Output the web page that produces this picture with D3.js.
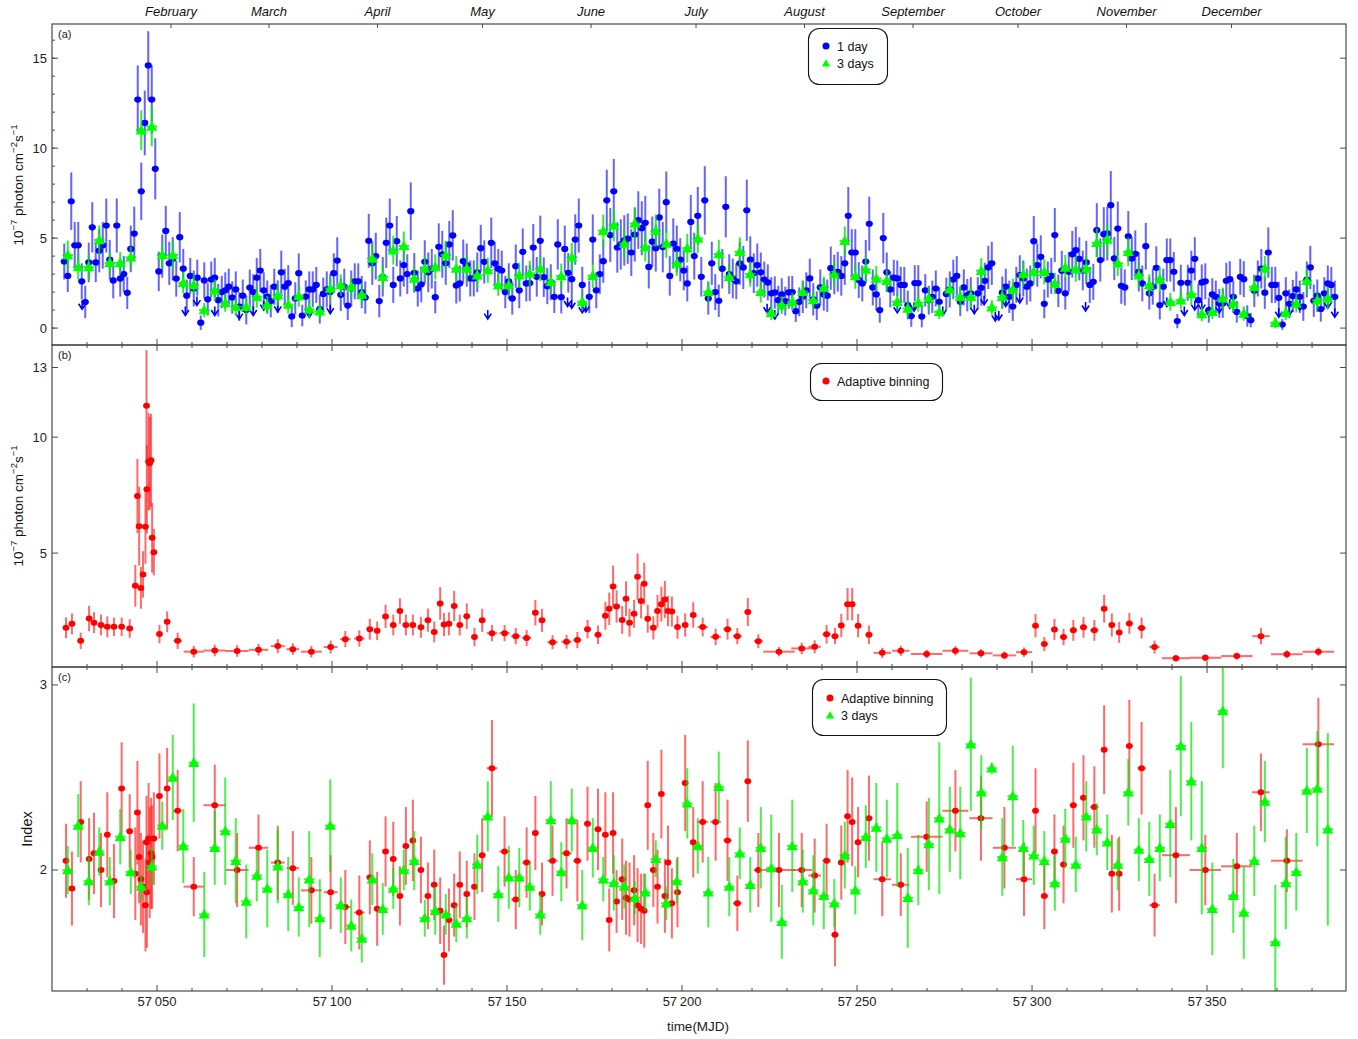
<!DOCTYPE html>
<html>
<head>
<meta charset="utf-8">
<script src="https://cdn.jsdelivr.net/npm/d3@7"></script>
<style>
  body { margin: 0; background: #fff; }
  svg { font-family: "Liberation Sans", Arial, sans-serif; }
</style>
</head>
<body>
<svg id="chart" width="1358" height="1039"></svg>
<script>
// ---- panel (a): 1-day fluxes, one per day from MJD 57023.5 ----
const dayStart = 57023.5;
const dayFlux = [
  3.7, 2.9, 7.05, 4.6, 4.6, 2.6, 1.45, 3.65, 5.6, 3.65,
  4.3, 4.6, 5.7, 3.8, 2.65, 5.7, 2.75, 3.0, 1.96, 4.4,
  5.25, 12.7, 7.6, 11.4, 14.6, 12.7, 8.85, 3.15, 4.0, 5.4,
  3.6, 3.85, 2.75, 5.05, 3.3, 1.8, 2.9, 2.2, 2.8, 0.3,
  2.65, 1.6, 2.7, 2.8, 1.55, 2.0, 2.1, 2.3, 1.7, 2.15,
  1.2, 1.8, 1.0, 2.25, 2.0, 2.8, 3.2, 2.1, 1.75, 1.5,
  2.3, 1.75, 3.1, 2.3, 2.5, 0.65, 1.65, 3.05, 0.7, 1.75,
  2.15, 2.15, 2.4, 1.05, 1.9, 2.15, 2.0, 3.05, 3.75, 1.85,
  2.3, 1.25, 2.2, 2.6, 2.6, 2.0, 1.7, 4.85, 3.6, 4.0,
  1.5, 2.85, 4.74, 5.7, 2.4, 4.83, 2.76, 3.5, 3.0, 6.5,
  3.07, 2.2, 2.43, 3.68, 3.1, 3.3, 1.72, 4.52, 4.1, 3.6,
  4.65, 5.15, 2.37, 2.48, 3.72, 3.5, 2.76, 2.76, 3.1, 4.44,
  3.68, null, 4.74, 3.6, 3.3, 3.2, 2.0, 2.6, 1.65, 3.44,
  2.1, 4.24, 2.48, 2.5, 4.48, 2.85, 4.85, 2.83, 2.33, 2.55,
  1.74, 4.65, 1.72, 4.4, 3.07, 2.72, 4.92, 5.7, 2.4, null,
  1.74, 4.92, 2.1, 3.0, 3.72, 7.1, 5.17, 7.6, 4.48, 4.65,
  4.87, 4.97, 4.2, 5.2, 6.0, 5.55, 5.85, 3.4, 4.8, 4.44,
  6.15, 4.5, 7.0, 2.9, 4.7, 4.4, 3.8, 3.2, 2.48, 5.9,
  4.0, 6.24, 2.85, 7.1, 1.65, 3.6, 2.0, 1.52, 3.3, 6.74,
  3.0, 2.76, 2.6, 3.6, 3.37, 6.55, 3.8, 3.05, 3.5, 3.1,
  2.7, 2.54, 1.93, 1.98, 1.55, 1.87, 1.5, 1.98, 2.0, 0.94,
  1.46, 1.74, 2.1, 2.76, 1.6, 1.24, 2.26, 1.87, 1.8, 3.33,
  2.98, 3.13, 2.9, 3.6, 6.24, 4.2, 4.2, 2.67, 2.48, 3.7,
  5.8, 2.26, 1.87, 1.0, 5.0, 3.1, 2.15, 2.8, 2.76, 2.4,
  2.4, 1.28, 0.67, 2.5, 2.5, 0.64, 2.1, 1.55, 1.74, 2.2,
  1.46, null, 1.9, 2.15, 2.7, 2.9, 1.46, 2.26, 1.83, 1.93,
  null, 1.93, 2.24, 2.63, 3.37, 3.6, null, null, 1.97, 2.3,
  1.74, 1.2, 2.4, 2.95, 2.76, 2.3, 2.48, 4.83, 3.5, 3.96,
  1.35, 2.7, 2.9, 5.17, 2.07, 3.19, 1.93, 3.13, 4.1, 4.33,
  3.85, 3.2, 3.65, 2.4, 2.57, 5.44, 3.78, 5.22, 5.26, 6.83,
  3.87, 5.53, 2.35, 2.26, 5.1, 3.87, 4.13, 3.13, 2.48, 4.55,
  1.93, 2.3, 3.35, 1.28, 2.3, 3.78, 3.78, 3.13, 0.39, 2.52,
  null, 2.52, 3.2, 3.85, 1.55, 2.54, 2.6, 1.0, 1.87, 1.74,
  1.37, 1.37, 2.63, 2.72, 1.74, 0.9, 2.85, 2.72, 0.67, 0.44,
  2.07, 2.76, 3.3, 1.97, 4.2, 2.4, 2.4, 1.68, 0.2, 1.93,
  1.35, 1.78, 2.15, 1.74, 1.2, 2.7, 3.37, 1.52, 1.8, 1.06,
  1.93, 2.48, 2.4, 1.74
];
const dayErr = [
  1.0, 0.9, 1.6, 1.3, 1.3, 1.0, 0.9, 1.1, 1.4, 1.1,
  1.2, 1.3, 1.5, 1.1, 1.0, 1.5, 1.0, 1.0, 0.9, 1.3,
  1.5, 1.9, 1.6, 1.8, 1.9, 1.9, 1.7, 1.1, 1.2, 1.4,
  1.2, 1.2, 1.0, 1.4, 1.1, 0.9, 1.0, 1.0, 1.0, 0.4,
  1.0, 0.9, 1.0, 1.1, 0.9, 0.9, 1.0, 1.0, 0.9, 1.0,
  0.8, 0.9, 0.8, 1.0, 1.0, 1.1, 1.2, 1.0, 0.9, 0.9,
  1.0, 0.9, 1.2, 1.0, 1.0, 0.6, 0.9, 1.1, 0.6, 0.9,
  1.0, 1.0, 1.0, 0.8, 0.9, 1.0, 1.0, 1.1, 1.3, 0.9,
  1.0, 0.8, 1.0, 1.0, 1.0, 0.9, 0.9, 1.5, 1.2, 1.3,
  0.9, 1.1, 1.4, 1.5, 1.0, 1.4, 1.0, 1.2, 1.1, 1.6,
  1.1, 1.0, 1.0, 1.2, 1.1, 1.1, 0.9, 1.3, 1.3, 1.2,
  1.3, 1.4, 1.0, 1.0, 1.2, 1.2, 1.0, 1.0, 1.1, 1.3,
  1.2, 0, 1.4, 1.2, 1.1, 1.1, 0.9, 1.0, 0.9, 1.2,
  1.0, 1.3, 1.0, 1.0, 1.3, 1.1, 1.4, 1.1, 1.0, 1.0,
  0.9, 1.4, 0.9, 1.3, 1.1, 1.1, 1.4, 1.5, 1.0, 0,
  0.9, 1.4, 1.0, 1.1, 1.2, 1.7, 1.5, 1.8, 1.4, 1.4,
  1.4, 1.4, 1.3, 1.5, 1.6, 1.5, 1.5, 1.2, 1.4, 1.3,
  1.6, 1.4, 1.7, 1.1, 1.4, 1.3, 1.2, 1.1, 1.0, 1.5,
  1.3, 1.6, 1.1, 1.9, 0.9, 1.2, 1.0, 0.9, 1.1, 1.7,
  1.1, 1.1, 1.0, 1.2, 1.2, 1.7, 1.3, 1.1, 1.2, 1.1,
  1.0, 1.0, 0.9, 0.9, 0.8, 0.9, 0.8, 0.9, 0.9, 0.6,
  0.8, 0.9, 1.0, 1.1, 0.9, 0.8, 1.0, 0.9, 0.9, 1.2,
  1.1, 1.1, 1.1, 1.2, 1.6, 1.3, 1.3, 1.0, 1.0, 1.2,
  1.5, 1.0, 0.9, 0.7, 1.4, 1.1, 1.0, 1.0, 1.0, 1.0,
  1.0, 0.8, 0.6, 1.0, 1.0, 0.6, 0.9, 0.8, 0.9, 1.0,
  0.8, 0, 0.9, 1.0, 1.1, 1.1, 0.8, 1.0, 0.9, 0.9,
  0, 0.9, 1.0, 1.0, 1.2, 1.2, 0, 0, 0.9, 1.0,
  0.9, 0.8, 1.0, 1.1, 1.0, 1.0, 1.0, 1.4, 1.2, 1.2,
  0.8, 1.0, 1.0, 1.5, 0.9, 1.1, 0.9, 1.1, 1.3, 1.3,
  1.2, 1.1, 1.2, 1.0, 1.0, 1.5, 1.2, 1.5, 1.5, 1.9,
  1.2, 1.5, 1.0, 1.0, 1.4, 1.2, 1.3, 1.1, 1.0, 1.3,
  0.9, 1.0, 1.2, 0.8, 1.0, 1.2, 1.2, 1.1, 0.4, 1.0,
  0, 1.0, 1.1, 1.2, 0.9, 1.0, 1.0, 0.7, 0.9, 0.9,
  0.8, 0.8, 1.0, 1.0, 0.9, 0.6, 1.0, 1.0, 0.6, 0.4,
  0.9, 1.0, 1.1, 0.9, 1.4, 1.0, 1.0, 0.9, 0.3, 0.9,
  0.8, 0.9, 1.0, 0.9, 0.8, 1.0, 1.2, 0.9, 0.9, 0.7,
  0.9, 1.0, 1.0, 0.9
];
// 1-day upper limits
const ulMjd = [57028.6, 57058.1, 57061.4, 57066.5, 57073.5, 57077.5, 57080.5, 57084.5, 57093.5, 57099.5,
  57144.5, 57167.3, 57168.5, 57171.5, 57172.5, 57224.3, 57226.5, 57261.5, 57266.3, 57274.5,
  57283.5, 57286.3, 57289.5, 57290.5, 57292.5, 57296.5, 57315.3, 57338.5, 57343.5, 57346.5,
  57348.5, 57350.5, 57353.5, 57356.5, 57370.5, 57373.5, 57376.5, 57384.5, 57386.5];
const ulFlux = [1.55, 1.2, 1.75, 1.2, 1.0, 1.2, 1.5, 1.4, 1.1, 1.3,
  1.0, 1.7, 1.6, 1.35, 1.4, 1.35, 1.0, 1.35, 1.45, 1.2,
  1.3, 1.8, 0.9, 0.95, 1.7, 1.9, 1.45, 1.7, 1.2, 1.5,
  1.5, 1.2, 1.35, 1.6, 1.1, 1.2, 1.5, 1.6, 1.1];

// ---- 3-day bins, centres from MJD 57024.5 ----
const triStart = 57024.5;
const triFlux = [
  4.06, 3.4, 3.4, 4.9, 3.63, 3.63, 3.93, 11.0, 11.2, 4.06,
  4.06, 2.52, 2.39, 1.0, 2.1, 1.41, 1.19, 1.19, 1.74, 1.28,
  1.83, 1.31, 1.78, 1.04, 0.94, 2.2, 2.39, 2.3, 1.87, 3.87,
  2.85, 4.33, 4.57, 2.76, 3.31, 3.4, 4.06, 3.31, 3.31, 2.94,
  3.22, 2.39, 2.39, 2.94, 3.04, 3.31, 2.57, 2.89, 3.93, 1.46,
  2.91, 5.41, 5.72, 4.7, 5.81, 4.5, 5.41, 4.7, 3.6, 4.44,
  4.98, 2.02, 4.11, 2.85, 4.24, 3.0, 2.02, 0.85, 1.28, 1.46,
  2.02, 1.56, 2.26, 3.0, 4.85, 2.89, 3.26, 2.76, 2.63, 1.46,
  1.09, 1.41, 1.65, 0.91, 2.15, 1.74, 1.74, 3.19, 1.15, 1.74,
  2.15, 3.0, 3.13, 3.13, 2.48, 3.37, 3.28, 3.31, 4.74, 4.92,
  3.6, 4.24, 2.94, 2.39, 2.7, 1.46, 1.55, 1.89, 0.78, 0.9,
  1.65, 1.37, 0.81, 2.3, 3.31, 0.3, 0.85, 1.37, 2.63, 1.55,
  1.65
];
const triFluxErr = [
  0.8, 0.7, 0.7, 0.8, 0.6, 0.6, 0.6, 1.1, 1.1, 0.7,
  0.8, 0.6, 0.6, 0.4, 0.6, 0.5, 0.5, 0.5, 0.6, 0.5,
  0.6, 0.5, 0.6, 0.5, 0.4, 0.6, 0.6, 0.6, 0.6, 0.8,
  0.7, 0.8, 0.8, 0.7, 0.7, 0.7, 0.8, 0.7, 0.7, 0.7,
  0.7, 0.6, 0.6, 0.7, 0.7, 0.7, 0.6, 0.7, 0.8, 0.5,
  0.7, 0.9, 0.9, 0.8, 0.9, 0.8, 0.9, 0.8, 0.7, 0.8,
  0.8, 0.6, 0.8, 0.7, 0.8, 0.7, 0.6, 0.4, 0.5, 0.5,
  0.6, 0.5, 0.6, 0.7, 0.8, 0.7, 0.7, 0.7, 0.6, 0.5,
  0.5, 0.5, 0.6, 0.4, 0.6, 0.6, 0.6, 0.7, 0.4, 0.6,
  0.6, 0.7, 0.7, 0.7, 0.6, 0.7, 0.7, 0.7, 0.8, 0.9,
  0.7, 0.8, 0.7, 0.6, 0.7, 0.5, 0.5, 0.6, 0.4, 0.4,
  0.6, 0.5, 0.4, 0.6, 0.7, 0.3, 0.4, 0.5, 0.7, 0.5,
  0.6
];
const triIndex = [
  2.0, 2.24, 1.94, 2.1, 1.94, 2.18, 1.99, 1.91, 2.02, 2.24,
  2.5, 2.13, 2.58, 1.76, 2.12, 2.21, 2.05, 1.83, 1.97, 1.9,
  2.02, 1.87, 1.8, 1.95, 1.74, 2.24, 1.81, 1.7, 1.63, 1.95,
  1.79, 1.9, 2.0, 2.05, 1.74, 1.78, 1.76, 1.71, 1.74, 2.03,
  2.29, 1.87, 1.96, 1.96, 1.91, 1.76, 2.27, 1.99, 2.27, 1.81,
  2.12, 1.95, 1.93, 1.91, 1.85, 1.88, 2.06, 1.82, 1.94, 2.36,
  2.13, 1.88, 2.45, 1.91, 2.09, 1.92, 2.12, 2.01, 1.72, 2.13,
  1.94, 1.89, 1.86, 1.82, 2.08, 1.89, 2.18, 2.23, 2.17, 2.19,
  1.85, 2.0, 2.14, 2.28, 2.22, 2.2, 2.68, 2.42, 2.55, 2.07,
  2.4, 2.12, 2.08, 2.05, 1.93, 2.17, 2.03, 2.29, 2.22, 2.15,
  2.03, 2.42, 2.11, 2.06, 2.12, 2.25, 2.67, 2.48, 2.12, 1.79,
  2.86, 1.86, 1.77, 2.05, 2.37, 1.61, 1.93, 1.99, 2.43, 2.44,
  2.22
];
const triIndexErr = [
  0.13, 0.17, 0.13, 0.13, 0.13, 0.15, 0.12, 0.07, 0.1, 0.13,
  0.23, 0.2, 0.32, 0.23, 0.2, 0.29, 0.23, 0.2, 0.14, 0.21,
  0.2, 0.2, 0.16, 0.26, 0.21, 0.25, 0.15, 0.14, 0.13, 0.14,
  0.14, 0.11, 0.11, 0.16, 0.1, 0.13, 0.11, 0.1, 0.11, 0.16,
  0.19, 0.15, 0.17, 0.16, 0.13, 0.11, 0.21, 0.16, 0.17, 0.19,
  0.16, 0.12, 0.15, 0.12, 0.09, 0.1, 0.1, 0.09, 0.12, 0.19,
  0.15, 0.19, 0.19, 0.16, 0.14, 0.15, 0.22, 0.29, 0.2, 0.25,
  0.17, 0.19, 0.18, 0.13, 0.18, 0.13, 0.17, 0.24, 0.21, 0.28,
  0.27, 0.19, 0.25, 0.41, 0.23, 0.25, 0.36, 0.2, 0.03, 0.21,
  0.27, 0.15, 0.16, 0.16, 0.15, 0.16, 0.15, 0.19, 0.14, 0.15,
  0.14, 0.18, 0.17, 0.2, 0.18, 0.29, 0.38, 0.32, 0.36, 0.25,
  0.31, 0.2, 0.25, 0.19, 0.22, 0.31, 0.25, 0.21, 0.23, 0.31,
  0.52
];

// ---- adaptive bins (panels b and c) ----
const adMjd = [
  57024.0, 57025.7, 57028.2, 57030.6, 57032.0, 57034.0, 57035.8, 57037.7, 57039.9, 57042.2,
  57043.8, 57044.4, 57044.9, 57045.4, 57046.0, 57046.7, 57047.0, 57047.1, 57047.6, 57047.9,
  57048.3, 57048.6, 57049.1, 57050.7, 57052.9, 57055.9, 57060.5, 57066.5, 57072.9, 57079.0,
  57084.5, 57088.8, 57094.1, 57099.6, 57103.8, 57107.8, 57110.8, 57112.9, 57115.3, 57117.5,
  57119.4, 57121.1, 57123.1, 57125.4, 57127.4, 57129.2, 57130.9, 57132.0, 57133.4, 57134.9,
  57136.5, 57138.5, 57140.7, 57142.9, 57145.7, 57149.3, 57152.5, 57155.6, 57158.1, 57160.0,
  57163.0, 57167.0, 57170.1, 57173.0, 57176.0, 57178.1, 57179.2, 57180.3, 57181.3, 57182.9,
  57184.0, 57185.0, 57186.3, 57187.3, 57188.3, 57189.2, 57190.2, 57191.8, 57193.0, 57194.1,
  57195.1, 57196.0, 57197.1, 57198.7, 57200.9, 57203.2, 57205.9, 57209.6, 57213.0, 57215.8,
  57218.8, 57221.8, 57227.7, 57234.2, 57237.9, 57241.3, 57243.7, 57245.5, 57247.3, 57248.6,
  57250.3, 57253.4, 57257.2, 57262.5, 57269.9, 57278.1, 57285.4, 57292.1, 57297.7, 57301.0,
  57303.5, 57306.4, 57309.0, 57311.8, 57314.7, 57317.8, 57320.6, 57322.8, 57324.9, 57327.8,
  57331.3, 57335.0, 57341.1, 57349.5, 57358.5, 57365.4, 57372.8, 57381.8
];
const adHalf = [
  0.5, 0.5, 1.0, 0.6, 0.6, 0.6, 0.6, 0.6, 0.7, 0.7,
  0.3, 0.2, 0.2, 0.2, 0.2, 0.2, 0.15, 0.15, 0.15, 0.15,
  0.15, 0.2, 0.2, 0.5, 0.5, 1.2, 2.9, 3.2, 3.3, 2.8,
  2.0, 1.8, 3.0, 2.0, 1.5, 1.5, 0.8, 0.8, 0.8, 0.8,
  0.7, 0.7, 0.8, 0.8, 0.7, 0.6, 0.5, 0.5, 0.5, 0.5,
  0.6, 0.7, 0.7, 0.8, 1.5, 1.5, 1.3, 1.3, 0.8, 0.8,
  1.5, 1.5, 1.2, 1.0, 1.0, 0.5, 0.4, 0.4, 0.4, 0.4,
  0.4, 0.4, 0.4, 0.4, 0.4, 0.4, 0.4, 0.5, 0.4, 0.4,
  0.4, 0.4, 0.5, 0.6, 0.8, 0.8, 1.5, 1.5, 1.2, 1.3,
  0.9, 1.3, 4.5, 3.0, 1.8, 1.2, 1.0, 0.6, 0.5, 0.5,
  0.6, 1.0, 2.5, 2.5, 4.5, 3.7, 3.3, 3.3, 2.3, 0.8,
  1.0, 1.0, 1.0, 1.0, 1.0, 1.2, 0.9, 0.8, 0.8, 1.0,
  1.2, 1.5, 4.0, 4.5, 4.5, 2.5, 4.5, 4.5
];
const adFlux = [
  1.78, 1.95, 1.22, 2.18, 2.0, 1.9, 1.82, 1.82, 1.82, 1.75,
  3.59, 7.46, 6.16, 3.5, 4.08, 6.14, 11.35, 7.75, 8.94, 8.87,
  9.0, 5.66, 5.04, 1.51, 2.04, 1.22, 0.75, 0.8, 0.78, 0.83,
  0.99, 0.86, 0.75, 0.95, 1.29, 1.32, 1.72, 1.65, 2.27, 1.9,
  2.5, 1.9, 1.9, 1.8, 2.11, 1.6, 2.83, 1.92, 1.95, 2.72,
  1.9, 2.28, 1.38, 2.1, 1.55, 1.55, 1.42, 1.34, 2.43, 2.1,
  1.16, 1.18, 1.25, 1.72, 1.48, 2.3, 2.6, 3.56, 2.7, 2.12,
  3.03, 2.0, 2.38, 3.98, 2.93, 3.68, 2.17, 1.78, 2.5, 2.8,
  3.0, 2.5, 2.48, 1.81, 1.9, 2.33, 1.81, 1.39, 1.72, 1.42,
  2.46, 1.2, 0.75, 0.89, 0.96, 1.5, 1.42, 1.88, 2.8, 2.8,
  1.87, 1.48, 0.7, 0.79, 0.65, 0.79, 0.68, 0.59, 0.73, 1.87,
  1.08, 1.71, 1.38, 1.67, 1.8, 1.67, 2.6, 1.9, 1.58, 1.97,
  1.77, 0.95, 0.47, 0.49, 0.56, 1.42, 0.64, 0.75
];
const adFluxErr = [
  0.45, 0.45, 0.35, 0.55, 0.45, 0.45, 0.45, 0.4, 0.4, 0.4,
  0.9, 1.6, 1.7, 0.9, 1.0, 1.6, 2.4, 1.9, 2.1, 2.0,
  2.0, 1.5, 1.0, 0.4, 0.45, 0.35, 0.25, 0.25, 0.25, 0.25,
  0.3, 0.25, 0.25, 0.28, 0.35, 0.35, 0.45, 0.4, 0.5, 0.45,
  0.55, 0.45, 0.45, 0.45, 0.5, 0.45, 0.7, 0.5, 0.5, 0.65,
  0.45, 0.55, 0.4, 0.5, 0.35, 0.35, 0.35, 0.35, 0.55, 0.5,
  0.3, 0.3, 0.35, 0.4, 0.4, 0.6, 0.7, 0.9, 0.7, 0.6,
  0.75, 0.6, 0.6, 1.0, 0.75, 0.9, 0.6, 0.5, 0.7, 0.75,
  0.8, 0.65, 0.65, 0.5, 0.5, 0.55, 0.4, 0.35, 0.45, 0.35,
  0.6, 0.3, 0.2, 0.25, 0.28, 0.4, 0.35, 0.5, 0.7, 0.7,
  0.5, 0.4, 0.22, 0.22, 0.18, 0.2, 0.18, 0.17, 0.2, 0.5,
  0.3, 0.45, 0.35, 0.45, 0.45, 0.45, 0.6, 0.5, 0.45, 0.45,
  0.45, 0.28, 0.15, 0.15, 0.15, 0.35, 0.17, 0.18
];
const adIndex = [
  2.05, 1.9, 2.26, 2.06, 2.09, 2.0, 2.19, 1.94, 2.44, 2.21,
  1.98, 2.31, 2.07, 1.95, 1.91, 1.81, 2.15, 1.88, 2.17, 2.04,
  2.09, 2.07, 2.17, 2.4, 2.44, 2.32, 1.91, 2.35, 2.0, 2.12,
  2.04, 2.01, 1.89, 1.88, 1.8, 1.77, 1.96, 1.79, 2.1, 2.06,
  1.86, 2.13, 2.16, 2.0, 1.86, 1.92, 1.78, 1.54, 1.73, 1.81,
  1.92, 1.87, 1.91, 2.08, 2.55, 2.1, 1.84, 2.04, 2.2, 1.87,
  2.05, 2.09, 2.05, 2.25, 2.22, 2.19, 1.73, 2.2, 1.83, 1.95,
  1.85, 1.84, 1.89, 1.81, 1.79, 1.78, 2.35, 2.0, 1.91, 2.41,
  1.86, 2.04, 1.82, 1.88, 2.47, 2.15, 2.26, 2.26, 2.16, 1.82,
  2.48, 2.0, 2.0, 2.0, 1.97, 2.05, 1.65, 2.04, 2.29, 2.26,
  2.15, 2.28, 1.95, 1.92, 2.18, 2.32, 2.28, 2.12, 1.95, 2.32,
  1.86, 2.1, 2.03, 2.35, 2.39, 2.34, 2.65, 1.98, 1.98, 2.67,
  2.55, 1.81, 2.08, 2.0, 2.02, 2.42, 2.05, 2.68
];
const adIndexErr = [
  0.2, 0.2, 0.22, 0.22, 0.22, 0.2, 0.23, 0.2, 0.25, 0.2,
  0.25, 0.28, 0.25, 0.25, 0.25, 0.25, 0.25, 0.3, 0.3, 0.3,
  0.3, 0.28, 0.25, 0.23, 0.22, 0.22, 0.16, 0.22, 0.2, 0.18,
  0.2, 0.2, 0.18, 0.2, 0.2, 0.2, 0.2, 0.2, 0.19, 0.2,
  0.16, 0.21, 0.22, 0.18, 0.18, 0.19, 0.18, 0.16, 0.17, 0.17,
  0.18, 0.18, 0.18, 0.2, 0.26, 0.19, 0.16, 0.19, 0.2, 0.17,
  0.19, 0.19, 0.22, 0.2, 0.22, 0.23, 0.17, 0.22, 0.17, 0.22,
  0.2, 0.2, 0.19, 0.2, 0.19, 0.2, 0.24, 0.2, 0.2, 0.24,
  0.2, 0.2, 0.19, 0.19, 0.26, 0.19, 0.22, 0.21, 0.22, 0.15,
  0.22, 0.2, 0.2, 0.2, 0.2, 0.2, 0.17, 0.2, 0.25, 0.24,
  0.19, 0.23, 0.2, 0.17, 0.19, 0.22, 0.23, 0.22, 0.2, 0.23,
  0.18, 0.2, 0.21, 0.23, 0.23, 0.22, 0.24, 0.21, 0.2, 0.25,
  0.25, 0.17, 0.26, 0.19, 0.18, 0.21, 0.17, 0.25
];

// ---- axis labels ----
const monthNames = ["February", "March", "April", "May", "June", "July", "August",
  "September", "October", "November", "December"];
const monthMjd = [57054, 57082, 57113, 57143, 57174, 57204, 57235, 57266, 57296, 57327, 57357];
const mjdTicks = [57050, 57100, 57150, 57200, 57250, 57300, 57350];
const fluxTicksA = [0, 5, 10, 15];
const fluxTicksB = [5, 10, 13];
const indexTicks = [2, 3];

const svg = d3.select("#chart");
const left = 52, right = 1346;
const frameColor = "#4a4a4a";

const x = d3.scaleLinear().domain([57020, 57389.7]).range([left, right]);

const panels = [
  { id: "a", top: 24, bottom: 345, y: d3.scaleLinear().domain([-0.94, 16.9]).range([345, 24]),
    ticks: fluxTicksA, minor: d3.range(0, 17) },
  { id: "b", top: 345, bottom: 667, y: d3.scaleLinear().domain([0.09, 13.97]).range([667, 345]),
    ticks: fluxTicksB, minor: [] },
  { id: "c", top: 667, bottom: 991, y: d3.scaleLinear().domain([1.346, 3.097]).range([991, 667]),
    ticks: indexTicks, minor: [] }
];

const defs = svg.append("defs");
panels.forEach(p => {
  defs.append("clipPath").attr("id", "clip-" + p.id)
    .append("rect").attr("x", left).attr("y", p.top)
    .attr("width", right - left).attr("height", p.bottom - p.top);
});

// error bar helper
function errorBars(g, data, color, opacity, width) {
  g.selectAll(null).data(data).enter().append("line")
    .attr("x1", d => x(d.m)).attr("x2", d => x(d.m))
    .attr("y1", d => d.ys(d.v - d.e)).attr("y2", d => d.ys(d.v + d.e))
    .attr("stroke", color).attr("stroke-opacity", opacity).attr("stroke-width", width);
  g.selectAll(null).data(data.filter(d => d.h > 0)).enter().append("line")
    .attr("x1", d => x(d.m - d.h)).attr("x2", d => x(d.m + d.h))
    .attr("y1", d => d.ys(d.v)).attr("y2", d => d.ys(d.v))
    .attr("stroke", color).attr("stroke-opacity", opacity).attr("stroke-width", width);
}

const tri = d3.symbol().type(d3.symbolTriangle).size(54);

// ---- panel a ----
const pa = panels[0];
const ga = svg.append("g").attr("clip-path", "url(#clip-a)");
const days = dayFlux.map((v, i) => ({ m: dayStart + i, v: v, e: dayErr[i], h: 0.5, ys: pa.y }))
  .filter(d => d.v !== null);
errorBars(ga, days, "#1a1aff", 0.68, 2);
ga.selectAll(null).data(days).enter().append("ellipse")
  .attr("cx", d => x(d.m)).attr("cy", d => pa.y(d.v))
  .attr("rx", 3.6).attr("ry", 3.1).attr("fill", "#0000ff");
ulMjd.forEach((m, i) => {
  const cx = x(m), cy = pa.y(ulFlux[i]);
  ga.append("path")
    .attr("d", `M${cx},${cy}V${cy + 9}M${cx - 3.5},${cy + 3.5}L${cx},${cy + 9}L${cx + 3.5},${cy + 3.5}`)
    .attr("fill", "none").attr("stroke", "#0000ff").attr("stroke-width", 1.6);
});
const tris = triFlux.map((v, i) => ({ m: triStart + 3 * i, v: v, e: triFluxErr[i], h: 1.5, ys: pa.y }));
errorBars(ga, tris, "#00e600", 0.8, 2);
ga.selectAll(null).data(tris).enter().append("path")
  .attr("d", tri).attr("transform", d => `translate(${x(d.m)},${pa.y(d.v) + 1})`)
  .attr("fill", "#00ff00");

// ---- panel b ----
const pb = panels[1];
const gb = svg.append("g").attr("clip-path", "url(#clip-b)");
const adB = adFlux.map((v, i) => ({ m: adMjd[i], v: v, e: adFluxErr[i], h: adHalf[i], ys: pb.y }));
errorBars(gb, adB, "#ff1a1a", 0.65, 2);
gb.selectAll(null).data(adB).enter().append("ellipse")
  .attr("cx", d => x(d.m)).attr("cy", d => pb.y(d.v))
  .attr("rx", 3.4).attr("ry", 3.0).attr("fill", "#ff0000");

// ---- panel c ----
const pc = panels[2];
const gc = svg.append("g").attr("clip-path", "url(#clip-c)");
const adC = adIndex.map((v, i) => ({ m: adMjd[i], v: v, e: adIndexErr[i], h: adHalf[i], ys: pc.y }));
errorBars(gc, adC, "#ff1a1a", 0.65, 2);
gc.selectAll(null).data(adC).enter().append("ellipse")
  .attr("cx", d => x(d.m)).attr("cy", d => pc.y(d.v))
  .attr("rx", 3.4).attr("ry", 3.0).attr("fill", "#ff0000");
const trisC = triIndex.map((v, i) => ({ m: triStart + 3 * i, v: v, e: triIndexErr[i], h: 1.5, ys: pc.y }));
errorBars(gc, trisC, "#00e600", 0.7, 2);
gc.selectAll(null).data(trisC).enter().append("path")
  .attr("d", tri).attr("transform", d => `translate(${x(d.m)},${pc.y(d.v) + 1})`)
  .attr("fill", "#00ff00");

// ---- frames and ticks ----
const minorMjd = d3.range(57030, 57390, 10);
panels.forEach((p, pi) => {
  const g = svg.append("g");
  g.append("rect").attr("x", left).attr("y", p.top)
    .attr("width", right - left).attr("height", p.bottom - p.top)
    .attr("fill", "none").attr("stroke", frameColor).attr("stroke-width", 1.2);

  // bottom ticks
  minorMjd.forEach(m => {
    const major = mjdTicks.includes(m);
    g.append("line").attr("x1", x(m)).attr("x2", x(m))
      .attr("y1", p.bottom).attr("y2", p.bottom - (major ? 6 : 3))
      .attr("stroke", frameColor);
    if (pi > 0) {
      g.append("line").attr("x1", x(m)).attr("x2", x(m))
        .attr("y1", p.top).attr("y2", p.top + (major ? 6 : 3))
        .attr("stroke", frameColor);
    }
  });

  // y ticks
  p.minor.forEach(v => {
    g.append("line").attr("x1", left).attr("x2", left + 3)
      .attr("y1", p.y(v)).attr("y2", p.y(v)).attr("stroke", frameColor);
  });
  p.ticks.forEach(v => {
    g.append("line").attr("x1", left).attr("x2", left + 6)
      .attr("y1", p.y(v)).attr("y2", p.y(v)).attr("stroke", frameColor);
    g.append("line").attr("x1", right).attr("x2", right - 6)
      .attr("y1", p.y(v)).attr("y2", p.y(v)).attr("stroke", frameColor);
    g.append("text").attr("x", left - 5).attr("y", p.y(v) + 4.5)
      .attr("text-anchor", "end").attr("font-size", 13).attr("fill", "#222")
      .text(v);
  });

  g.append("text").attr("x", left + 6).attr("y", p.top + 14)
    .attr("font-size", 11).attr("fill", "#222").text("(" + p.id + ")");
});

// month ticks on the top frame
monthMjd.forEach((m, i) => {
  svg.append("line").attr("x1", x(m)).attr("x2", x(m))
    .attr("y1", 24).attr("y2", 28).attr("stroke", frameColor);
  svg.append("text").attr("x", x(m)).attr("y", 16)
    .attr("text-anchor", "middle").attr("font-size", 13).attr("font-style", "italic")
    .attr("fill", "#111").text(monthNames[i]);
});

// MJD labels
mjdTicks.forEach(m => {
  svg.append("text").attr("x", x(m)).attr("y", 1006)
    .attr("text-anchor", "middle").attr("font-size", 13).attr("fill", "#222")
    .text(String(m).slice(0, 2) + "\u2009" + String(m).slice(2));
});
svg.append("text").attr("x", 698).attr("y", 1031).attr("text-anchor", "middle")
  .attr("font-size", 13.5).attr("fill", "#222").text("time(MJD)");

// flux axis titles
function fluxTitle(cy) {
  const t = svg.append("text").attr("text-anchor", "middle").attr("font-size", 13.5)
    .attr("fill", "#111").attr("transform", `translate(23,${cy}) rotate(-90)`);
  t.append("tspan").text("10");
  t.append("tspan").attr("font-size", 9.5).attr("dy", -6).text("\u22127");
  t.append("tspan").attr("dy", 6).text(" photon cm");
  t.append("tspan").attr("font-size", 9.5).attr("dy", -6).text("\u22122");
  t.append("tspan").attr("dy", 6).text("s");
  t.append("tspan").attr("font-size", 9.5).attr("dy", -6).text("\u22121");
}
fluxTitle(185);
fluxTitle(506);
svg.append("text").attr("text-anchor", "middle").attr("font-size", 14.5).attr("fill", "#111")
  .attr("transform", "translate(32,829) rotate(-90)").text("Index");

// ---- legends ----
function legendBox(x0, y0, w, h) {
  svg.append("rect").attr("x", x0).attr("y", y0).attr("width", w).attr("height", h)
    .attr("rx", 11).attr("ry", 11).attr("fill", "#fff").attr("stroke", "#111").attr("stroke-width", 1.1);
}
function legendDot(cx, cy, color, label) {
  svg.append("circle").attr("cx", cx).attr("cy", cy).attr("r", 3.5).attr("fill", color);
  svg.append("text").attr("x", cx + 11).attr("y", cy + 4.5).attr("font-size", 12.5)
    .attr("fill", "#111").text(label);
}
function legendTri(cx, cy, label) {
  svg.append("path").attr("d", d3.symbol().type(d3.symbolTriangle).size(30))
    .attr("transform", `translate(${cx},${cy + 1})`).attr("fill", "#00ff00");
  svg.append("text").attr("x", cx + 11).attr("y", cy + 4.5).attr("font-size", 12.5)
    .attr("fill", "#111").text(label);
}
legendBox(808.5, 28.5, 79, 56);
legendDot(826, 46, "#0000ff", "1 day");
legendTri(826, 63, "3 days");
legendBox(810.5, 363.5, 132, 37);
legendDot(826, 381, "#ff0000", "Adaptive binning");
legendBox(812.5, 679.5, 134, 56);
legendDot(830, 698, "#ff0000", "Adaptive binning");
legendTri(830, 715, "3 days");
</script>
</body>
</html>
